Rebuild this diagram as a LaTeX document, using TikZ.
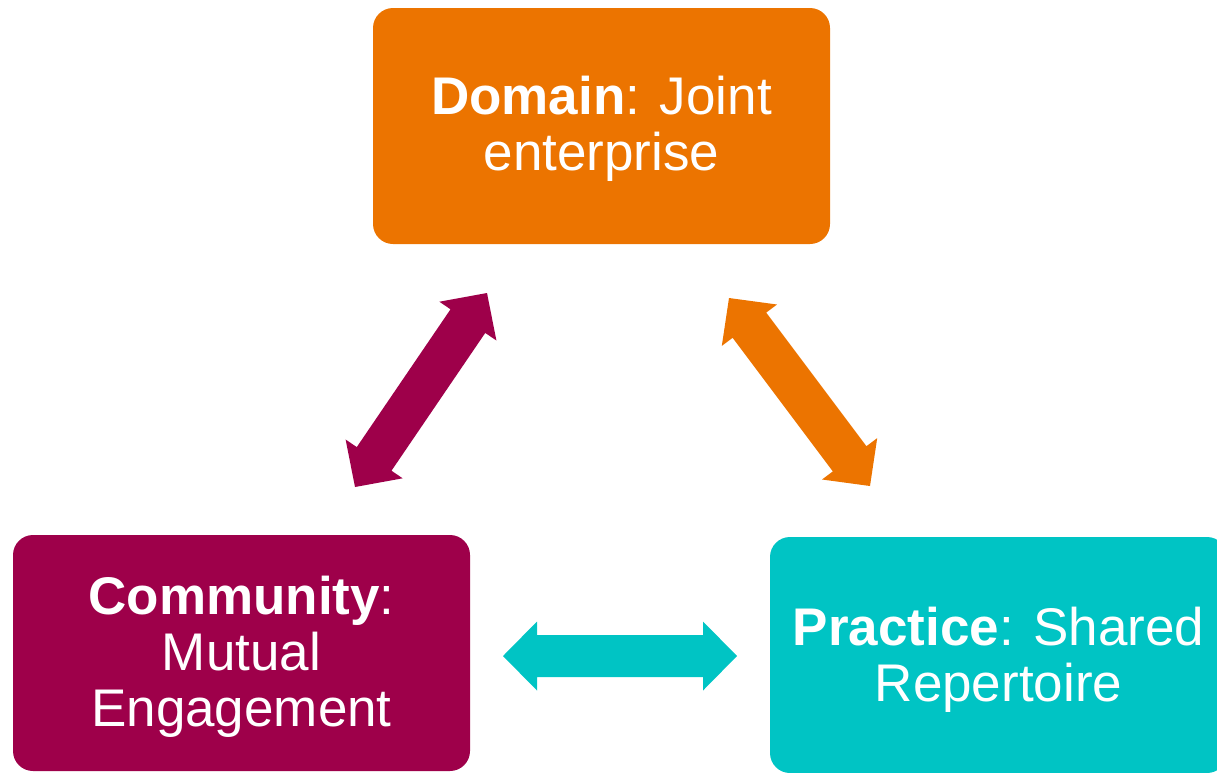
\documentclass[tikz,border=0pt]{standalone}
\usepackage{fontspec}
\setmainfont{Liberation Sans}
\usetikzlibrary{calc}

\definecolor{domainorange}{RGB}{236,116,0}
\definecolor{communityred}{RGB}{158,0,74}
\definecolor{practiceteal}{RGB}{0,196,196}

% centred lines of card text, lowered a little inside the card
\newcommand\cardlines[2][3pt]{\raisebox{-#1}[\height][\depth]{\begin{tabular}{@{}c@{}}#2\end{tabular}}}

% block double arrow between two named points, filled with #3
\newcommand\blockdoublearrow[3]{%
  \path ($(#1)!34pt!(#2)$) coordinate (#1-hb) ($(#2)!34pt!(#1)$) coordinate (#2-hb);
  \fill[#3] (#1)
    -- ($(#1-hb)!34.5pt!90:(#2)$) -- ($(#1-hb)!21pt!90:(#2)$)
    -- ($(#2-hb)!21pt!-90:(#1)$) -- ($(#2-hb)!34.5pt!-90:(#1)$)
    -- (#2)
    -- ($(#2-hb)!34.5pt!90:(#1)$) -- ($(#2-hb)!21pt!90:(#1)$)
    -- ($(#1-hb)!21pt!-90:(#2)$) -- ($(#1-hb)!34.5pt!-90:(#2)$)
    -- cycle;%
}

\begin{document}
\begin{tikzpicture}[x=1pt,y=-1pt,
  card/.style={rounded corners=20pt, minimum width=457pt, minimum height=236pt,
    inner sep=0pt, text=white,
    font=\fontsize{53}{56}\selectfont}]
\useasboundingbox (0,0) rectangle (1217,772);

% the three cards
\node[card, fill=domainorange]    (domain)    at (601.5,126)
  {\cardlines[5pt]{\textbf{Domain}: Joint\\enterprise}};
\node[card, fill=communityred]    (community) at (241.5,653)
  {\cardlines[6pt]{\textbf{Community}:\\Mutual\\Engagement}};
\node[card, fill=practiceteal]    (practice)  at (998.5,655)
  {\cardlines[7pt]{\textbf{Practice}: Shared\\Repertoire}};

% arrow end points
\coordinate (cd-a) at (355,487);
\coordinate (cd-b) at (487,293);
\coordinate (dp-a) at (729,298);
\coordinate (dp-b) at (870,486);
\coordinate (cp-a) at (503,656);
\coordinate (cp-b) at (737,656);

\blockdoublearrow{cd-a}{cd-b}{communityred}
\blockdoublearrow{dp-a}{dp-b}{domainorange}
\blockdoublearrow{cp-a}{cp-b}{practiceteal}
\end{tikzpicture}
\end{document}
